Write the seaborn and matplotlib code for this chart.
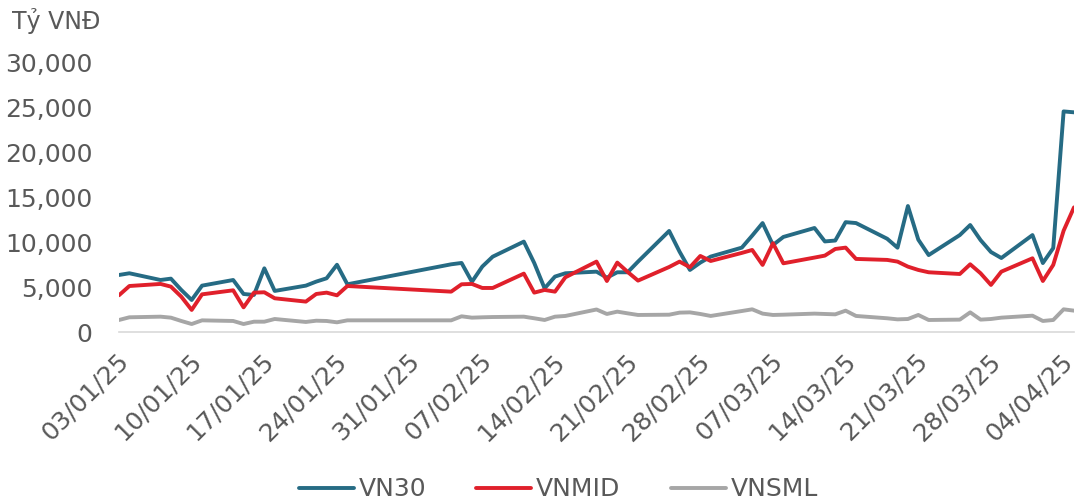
import pandas as pd
import matplotlib.pyplot as plt
import matplotlib.dates as mdates
import matplotlib.ticker as mticker
import matplotlib.transforms as mtransforms
import seaborn as sns


dates = [
    "2025-01-02", "2025-01-03", "2025-01-06", "2025-01-07", "2025-01-08", "2025-01-09", "2025-01-10",
    "2025-01-13", "2025-01-14", "2025-01-15", "2025-01-16", "2025-01-17",
    "2025-01-20", "2025-01-21", "2025-01-22", "2025-01-23", "2025-01-24",
    "2025-02-03", "2025-02-04", "2025-02-05", "2025-02-06", "2025-02-07",
    "2025-02-10", "2025-02-11", "2025-02-12", "2025-02-13", "2025-02-14",
    "2025-02-17", "2025-02-18", "2025-02-19", "2025-02-20", "2025-02-21",
    "2025-02-24", "2025-02-25", "2025-02-26", "2025-02-27", "2025-02-28",
    "2025-03-03", "2025-03-04", "2025-03-05", "2025-03-06", "2025-03-07",
    "2025-03-10", "2025-03-11", "2025-03-12", "2025-03-13", "2025-03-14",
    "2025-03-17", "2025-03-18", "2025-03-19", "2025-03-20", "2025-03-21",
    "2025-03-24", "2025-03-25", "2025-03-26", "2025-03-27", "2025-03-28",
    "2025-03-31", "2025-04-01", "2025-04-02", "2025-04-03", "2025-04-04",
]

vn30 = [
    6360, 6550, 5800, 5950, 4690, 3570, 5170,
    5800, 4240, 4130, 7100, 4580,
    5170, 5620, 5990, 7500, 5320,
    7550, 7700, 5600, 7300, 8400,
    10080, 7700, 4870, 6180, 6550,
    6730, 6060, 6660, 6660, 7850,
    11270, 8960, 6920, 7740, 8410,
    9410, 10750, 12150, 9700, 10600,
    11600, 10100, 10200, 12250, 12150,
    10400, 9400, 14050, 10300, 8580,
    10810, 11930, 10250, 8920, 8250,
    10810, 7690, 9360, 24600, 24500,
]

vnmid = [
    4100, 5130, 5360, 5060, 3940, 2460, 4200,
    4650, 2750, 4390, 4430, 3760,
    3390, 4240, 4390, 4090, 5130,
    4500, 5320, 5360, 4910, 4910,
    6510, 4390, 4690, 4500, 6100,
    7850, 5690, 7740, 6700, 5730,
    7250, 7850, 7220, 8480, 7920,
    8820, 9150, 7480, 9900, 7660,
    8300, 8520, 9260, 9410, 8150,
    8040, 7850, 7290, 6920, 6660,
    6470, 7550, 6550, 5250, 6730,
    8220, 5690, 7480, 11300, 13900,
]

vnsml = [
    1340, 1640, 1710, 1600, 1230, 890, 1300,
    1230, 890, 1150, 1150, 1450,
    1120, 1260, 1230, 1080, 1300,
    1300, 1750, 1600, 1640, 1670,
    1710, 1530, 1340, 1710, 1790,
    2510, 2010, 2270, 2080, 1900,
    1930, 2160, 2190, 2010, 1790,
    2340, 2530, 2050, 1900, 1930,
    2050, 2010, 1970, 2380, 1790,
    1530, 1410, 1450, 1900, 1340,
    1380, 2190, 1380, 1450, 1600,
    1820, 1230, 1340, 2530, 2380,
]

series_names = ["VN30", "VNMID", "VNSML"]
colors = {"VN30": "#266b84", "VNMID": "#e0202b", "VNSML": "#a6a6a6"}
tick_dates = pd.date_range("2025-01-03", "2025-04-04", freq="7D")

df = pd.DataFrame({"date": pd.to_datetime(dates), "VN30": vn30, "VNMID": vnmid, "VNSML": vnsml})
long = df.melt(id_vars="date", value_vars=series_names, var_name="series", value_name="value")

sns.set_style("white")
plt.rcParams["font.family"] = ["DejaVu Sans"]
text_color = "#595959"

fig = plt.figure(figsize=(10.81, 5.04), dpi=100)
ax = fig.add_axes([119 / 1081, 172 / 504, 955 / 1081, 269 / 504])

sns.lineplot(data=long, x="date", y="value", hue="series", hue_order=series_names,
             palette=colors, linewidth=2.8, ax=ax, solid_capstyle="round", solid_joinstyle="round")

ax.set_xlim(pd.Timestamp("2025-01-02"), pd.Timestamp("2025-04-04"))
ax.set_ylim(0, 30000)
ax.set_yticks(range(0, 30001, 5000))
ax.yaxis.set_major_formatter(mticker.FuncFormatter(lambda v, p: f"{int(v):,}"))
ax.set_xticks(tick_dates)
ax.xaxis.set_major_formatter(mdates.DateFormatter("%d/%m/%y"))
ax.set_xlabel("")
ax.set_ylabel("")

for s in ["top", "right", "left"]:
    ax.spines[s].set_visible(False)
ax.spines["bottom"].set_color("#d9d9d9")
ax.spines["bottom"].set_linewidth(1.2)

ax.tick_params(axis="y", length=0, pad=19, labelsize=18, labelcolor=text_color)
ax.tick_params(axis="x", length=0, pad=0, labelsize=18, labelcolor=text_color)
shift = mtransforms.ScaledTranslation(-0.13, -0.17, fig.dpi_scale_trans)
for lbl in ax.get_xticklabels():
    lbl.set_rotation(45)
    lbl.set_ha("right")
    lbl.set_va("top")
    lbl.set_rotation_mode("anchor")
    lbl.set_transform(lbl.get_transform() + shift)

fig.text(12 / 1081, 1 - 21 / 504, "Tỷ VNĐ", fontsize=17, color=text_color, va="center", ha="left")

sns.move_legend(ax, "center", bbox_to_anchor=(0.46, -0.585), ncol=3, frameon=False, title=None,
                fontsize=18, handlelength=2.2, handletextpad=0.2, columnspacing=2.0,
                labelcolor=text_color)

fig.savefig("out.png", dpi=100)
